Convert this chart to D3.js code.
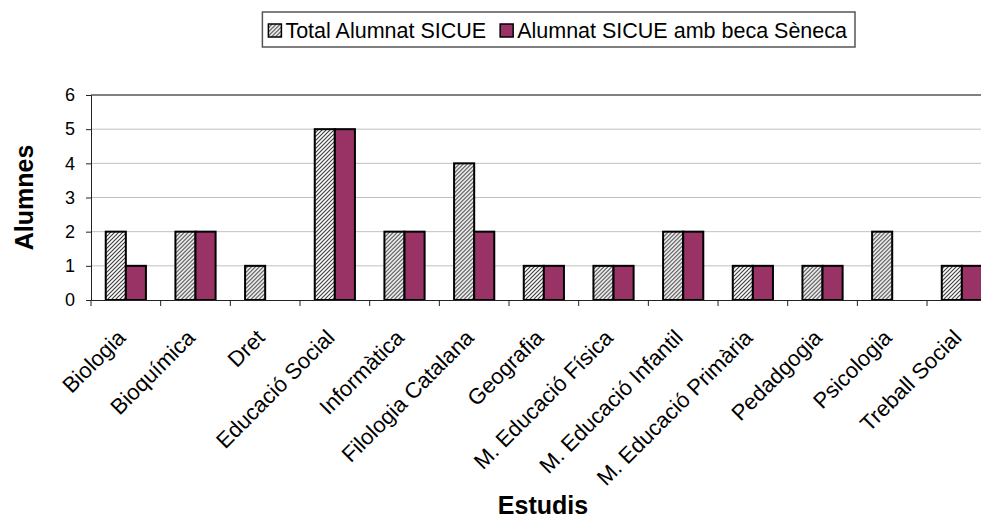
<!DOCTYPE html>
<html>
<head>
<meta charset="utf-8">
<script src="https://cdn.jsdelivr.net/npm/d3@7"></script>
<style>
  html, body { margin: 0; padding: 0; background: #fff; }
  svg { display: block; font-family: "Liberation Sans", Arial, sans-serif; }
</style>
</head>
<body>
<svg id="chart" width="981" height="520"></svg>
<script>
const categories = ["Biologia", "Bioquímica", "Dret", "Educació Social", "Informàtica",
  "Filologia Catalana", "Geografia", "M. Educació Física", "M. Educació Infantil",
  "M. Educació Primària", "Pedadgogia", "Psicologia", "Treball Social"];
const seriesNames = ["Total Alumnat SICUE", "Alumnat SICUE amb beca Sèneca"];
const totalValues = [2, 2, 1, 5, 2, 4, 1, 1, 2, 1, 1, 2, 1];
const senecaValues = [1, 2, 0, 5, 2, 2, 1, 1, 2, 1, 1, 0, 1];
const yTicks = [0, 1, 2, 3, 4, 5, 6];
const yTitle = "Alumnes";
const xTitle = "Estudis";

const FONT = "'Liberation Sans', Arial, sans-serif";
const svg = d3.select("#chart");
const plotL = 91, plotR = 996.7, plotT = 95, plotB = 300;

const defs = svg.append("defs");
const pat = defs.append("pattern").attr("id", "hatch")
  .attr("patternUnits", "userSpaceOnUse").attr("width", 4).attr("height", 4);
pat.append("rect").attr("width", 4).attr("height", 4).attr("fill", "#fff");
pat.append("path").attr("d", "M-1,1 L1,-1 M0,4 L4,0 M3,5 L5,3")
  .attr("stroke", "#404040").attr("stroke-width", 1.2);

const colors = ["url(#hatch)", "#993366"];

const x0 = d3.scaleBand().domain(categories).range([plotL, plotR]).padding(0);
const x1 = d3.scaleBand().domain(seriesNames).range([0, x0.bandwidth()])
  .paddingInner(0).paddingOuter(0.734);
const y = d3.scaleLinear().domain([0, 6]).range([plotB, plotT]);

// gridlines
svg.append("g").selectAll("line").data(yTicks.filter(d => d > 0 && d < 6)).join("line")
  .attr("x1", plotL).attr("x2", 981).attr("y1", d => y(d)).attr("y2", d => y(d))
  .attr("stroke", "#c0c0c0").attr("stroke-width", 1);
svg.append("line").attr("x1", plotL).attr("x2", 981).attr("y1", y(6)).attr("y2", y(6))
  .attr("stroke", "#808080").attr("stroke-width", 2);

// bars
const data = categories.map((c, i) => ({ c, vals: [totalValues[i], senecaValues[i]] }));
const groups = svg.append("g").selectAll("g").data(data).join("g")
  .attr("transform", d => `translate(${x0(d.c)},0)`);
groups.selectAll("rect").data(d => d.vals.map((v, j) => ({ v, j })).filter(e => e.v > 0)).join("rect")
  .attr("x", e => x1(seriesNames[e.j]))
  .attr("width", x1.bandwidth())
  .attr("y", e => y(e.v))
  .attr("height", e => y(0) - y(e.v))
  .attr("fill", e => colors[e.j])
  .attr("stroke", "#000").attr("stroke-width", 2);

// y axis
const yAxis = d3.axisLeft(y).tickValues(yTicks).tickFormat(d3.format("d")).tickSize(5).tickPadding(11);
const yg = svg.append("g").attr("transform", `translate(${plotL},0)`).call(yAxis);
yg.select(".domain").attr("stroke", "#222");
yg.selectAll(".tick line").attr("stroke", "#222");
yg.selectAll("text").attr("font-size", 18).attr("fill", "#000").attr("font-family", FONT);

// x axis
const xAxis = d3.axisBottom(x0).tickSize(0).tickFormat("");
const xg = svg.append("g").attr("transform", `translate(0,${plotB})`).call(xAxis);
xg.select(".domain").attr("stroke", "#222");
xg.selectAll(".tick").remove();
const boundaries = categories.map(c => x0(c));
svg.append("g").selectAll("line").data(boundaries.filter(b => b < 981)).join("line")
  .attr("x1", d => d).attr("x2", d => d).attr("y1", plotB).attr("y2", plotB + 6)
  .attr("stroke", "#222");

// category labels
svg.append("g").selectAll("text").data(categories).join("text")
  .attr("transform", d => `translate(${x0(d) + x0.bandwidth() / 2 + 1},339) rotate(-45)`)
  .attr("text-anchor", "end")
  .attr("font-size", 22)
  .text(d => d);

// axis titles
svg.append("text").attr("transform", `translate(33,${(plotT + plotB) / 2}) rotate(-90)`)
  .attr("text-anchor", "middle").attr("font-size", 25).attr("font-weight", "bold").text(yTitle);
svg.append("text").attr("x", 543).attr("y", 514)
  .attr("text-anchor", "middle").attr("font-size", 25).attr("font-weight", "bold").text(xTitle);

// legend
const lg = svg.append("g");
const lgBox = lg.append("rect").attr("y", 12).attr("height", 35)
  .attr("fill", "#fff").attr("stroke", "#555").attr("stroke-width", 1.5);
let cx = 0;
const items = lg.append("g");
seriesNames.forEach((s, i) => {
  const it = items.append("g").attr("transform", `translate(${cx},0)`);
  it.append("rect").attr("x", 0).attr("y", 24).attr("width", 13).attr("height", 13)
    .attr("fill", colors[i]).attr("stroke", "#000").attr("stroke-width", 1.5);
  const t = it.append("text").attr("x", 17).attr("y", 37.5).attr("font-size", 21.5).text(s);
  cx += 17 + t.node().getComputedTextLength() + 14;
});
const totalW = cx - 14;
const rightEdge = 847;
const startX = rightEdge - totalW;
items.attr("transform", `translate(${startX},0)`);
lgBox.attr("x", startX - 6).attr("width", totalW + 14);
</script>
</body>
</html>
